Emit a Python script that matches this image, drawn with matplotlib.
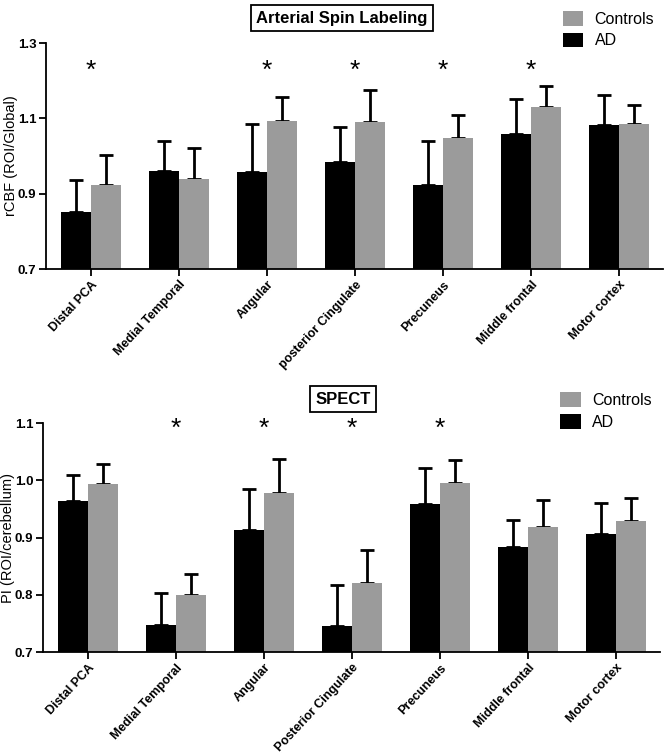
import matplotlib
matplotlib.use("Agg")
import matplotlib.pyplot as plt
from matplotlib.patches import Patch
import numpy as np

plt.rcParams['font.family'] = ['Liberation Sans', 'DejaVu Sans']

regions_asl = ["Distal PCA", "Medial Temporal", "Angular", "posterior Cingulate",
               "Precuneus", "Middle frontal", "Motor cortex"]
regions_spect = ["Distal PCA", "Medial Temporal", "Angular", "Posterior Cingulate",
                 "Precuneus", "Middle frontal", "Motor cortex"]

# Arterial Spin Labeling, rCBF (ROI/Global)
asl_ad = [0.851, 0.960, 0.957, 0.984, 0.922, 1.059, 1.083]
asl_ad_err = [0.086, 0.079, 0.128, 0.092, 0.117, 0.092, 0.080]
asl_ctrl = [0.924, 0.939, 1.092, 1.090, 1.049, 1.131, 1.086]
asl_ctrl_err = [0.080, 0.081, 0.064, 0.084, 0.060, 0.054, 0.049]
asl_sig = [True, False, True, True, True, True, False]

# SPECT, PI (ROI/cerebellum)
sp_ad = [0.964, 0.748, 0.914, 0.745, 0.958, 0.884, 0.907]
sp_ad_err = [0.046, 0.055, 0.071, 0.072, 0.063, 0.047, 0.053]
sp_ctrl = [0.994, 0.799, 0.977, 0.820, 0.995, 0.918, 0.929]
sp_ctrl_err = [0.035, 0.037, 0.061, 0.058, 0.040, 0.047, 0.040]
sp_sig = [False, True, True, True, True, False, False]

BLACK = '#000000'
GRAY = '#9b9b9b'


def panel(ax, labels, ad, ad_err, ctrl, ctrl_err, sig, ylim, yticks, ylabel, star_y, label_x):
    x = np.arange(len(labels))
    w = 0.34
    ax.bar(x - w/2, ad, w, color=BLACK, zorder=2)
    ax.bar(x + w/2, ctrl, w, color=GRAY, zorder=2)
    ax.errorbar(x - w/2, ad, yerr=[np.zeros(len(ad)), ad_err], fmt='none',
                ecolor='black', elinewidth=2, capsize=5, capthick=2, zorder=1)
    ax.errorbar(x + w/2, ctrl, yerr=[np.zeros(len(ctrl)), ctrl_err], fmt='none',
                ecolor='black', elinewidth=2, capsize=5, capthick=2, zorder=1)
    for i, s in enumerate(sig):
        if s:
            ax.text(x[i], star_y, '*', ha='center', va='center', fontsize=19)
    ax.set_xlim(-0.51, len(labels) - 0.5)
    ax.set_ylim(*ylim)
    ax.set_yticks(yticks)
    ax.set_yticklabels(['%.1f' % v for v in yticks], fontweight='bold', fontsize=9.5)
    ax.set_xticks(x)
    ax.set_xticklabels(labels, rotation=47, ha='right', rotation_mode='anchor',
                       fontweight='bold', fontsize=9)
    ax.set_ylabel(ylabel, fontsize=10.5)
    ax.yaxis.set_label_coords(label_x, 0.5)
    for sp in ['top', 'right']:
        ax.spines[sp].set_visible(False)
    for sp in ['left', 'bottom']:
        ax.spines[sp].set_linewidth(1.3)
    ax.tick_params(width=1.3, length=5, pad=2)
    handles = [Patch(facecolor=GRAY, edgecolor='none', label='Controls'),
               Patch(facecolor=BLACK, edgecolor='none', label='AD')]
    return handles


fig = plt.figure(figsize=(6.66, 7.55), dpi=100)
ax1 = fig.add_axes([0.0691, 0.6437, 0.9264, 0.2993])
ax2 = fig.add_axes([0.0646, 0.1364, 0.9265, 0.3033])

h = panel(ax1, regions_asl, asl_ad, asl_ad_err, asl_ctrl, asl_ctrl_err, asl_sig,
          (0.7, 1.3), [0.7, 0.9, 1.1, 1.3], 'rCBF (ROI/Global)', 1.227, -0.045)
panel(ax2, regions_spect, sp_ad, sp_ad_err, sp_ctrl, sp_ctrl_err, sp_sig,
      (0.7, 1.1), [0.7, 0.8, 0.9, 1.0, 1.1], 'PI (ROI/cerebellum)', 1.09, -0.045)

box = dict(facecolor='white', edgecolor='black', linewidth=1.3, pad=4)
fig.text(342 / 666, 1 - 18 / 755, 'Arterial Spin Labeling', ha='center', va='center',
         fontweight='bold', fontsize=12, bbox=box)
fig.text(343 / 666, 1 - 399 / 755, 'SPECT', ha='center', va='center',
         fontweight='bold', fontsize=12, bbox=box)

leg_kw = dict(loc='upper left', frameon=False, fontsize=11.5, handlelength=1.3,
              handleheight=1.05, handletextpad=0.7, labelspacing=0.35, borderpad=0.2)
fig.legend(handles=h, bbox_to_anchor=(0.828, 1.0), **leg_kw)
fig.legend(handles=h, bbox_to_anchor=(0.824, 0.495), **leg_kw)

fig.savefig('out.png', dpi=100)
